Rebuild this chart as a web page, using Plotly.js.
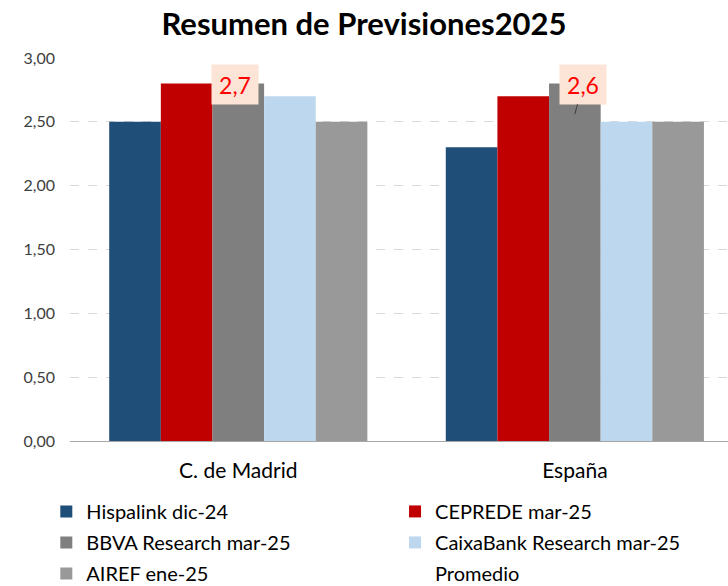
<!DOCTYPE html>
<html><head><meta charset="utf-8">
<script src="https://cdn.plot.ly/plotly-3.0.1.min.js"></script>
<style>body{margin:0;background:#fff}#c{width:728px;height:586px}</style>
</head><body><div id="c"></div>
<script>
const categories = ["C. de Madrid", "España"];
const hispalink = [2.5, 2.3];
const ceprede = [2.8, 2.7];
const bbva = [2.8, 2.8];
const caixabank = [2.7, 2.5];
const airef = [2.5, 2.5];
const promedio = [2.66, 2.56];
const promedioLabels = ["2,7", "2,6"];
const seriesNames = ["Hispalink dic-24", "CEPREDE mar-25", "BBVA Research mar-25", "CaixaBank Research mar-25", "AIREF ene-25", "Promedio"];
const yTicks = [0, 0.5, 1, 1.5, 2, 2.5, 3];
const yTickLabels = ["0,00", "0,50", "1,00", "1,50", "2,00", "2,50", "3,00"];

const font = "Lato, 'Open Sans', sans-serif";
const colors = ["#1f4e79", "#c00000", "#7f7f7f", "#bdd7ee", "#999999"];
const vals = [hispalink, ceprede, bbva, caixabank, airef];
const legendOf = ["legend", "legend2", "legend", "legend2", "legend", "legend2"];

const traces = vals.map((v, i) => ({
  type: "bar", x: categories, y: v, name: seriesNames[i],
  marker: {color: colors[i], line: {width: 0}},
  legend: legendOf[i], legendgroup: "g" + i, hoverinfo: "none"
}));
traces.push({
  type: "scatter", mode: "lines", x: categories, y: promedio, name: seriesNames[5],
  line: {color: "rgba(0,0,0,0)", width: 0}, legend: legendOf[5], legendgroup: "g5", hoverinfo: "none"
});

const annotations = categories.map((c, i) => ({
  x: c, y: promedio[i], xref: "x", yref: "y",
  text: promedioLabels[i],
  font: {family: font, size: 23, color: "#ff0000"},
  bgcolor: "#fce4d6", borderpad: 6, width: 34, height: 27,
  showarrow: i === 1, arrowhead: 0, arrowwidth: 1, arrowcolor: "#404040",
  ax: i === 1 ? 8 : 0, ay: i === 1 ? -30 : 0,
  xshift: i === 1 ? 0 : -3, yshift: i === 1 ? 0 : 17
}));

const legendBase = {
  orientation: "v", xref: "paper", yref: "paper", xanchor: "left", yanchor: "top",
  font: {family: font, size: 20, color: "#000"}, bgcolor: "rgba(0,0,0,0)",
  traceorder: "grouped", tracegroupgap: 2, itemwidth: 30
};

const layout = {
  width: 728, height: 586,
  margin: {l: 70, r: 0, t: 58, b: 145, autoexpand: false},
  paper_bgcolor: "#fff", plot_bgcolor: "#fff",
  title: {text: "<b>Resumen de Previsiones2025</b>", font: {family: font, size: 31, color: "#000"}, x: 0.5, xanchor: "center", y: 0.978, yanchor: "top"},
  barmode: "group", bargap: 0.233, bargroupgap: 0,
  xaxis: {type: "category", range: [-0.5, 1.455], showgrid: false, zeroline: false, automargin: false,
    showline: false, ticks: "", tickfont: {family: font, size: 21, color: "#000"}, ticklabelstandoff: 15},
  yaxis: {range: [0, 3], tickvals: yTicks, ticktext: yTickLabels, showgrid: true, automargin: false,
    gridcolor: "#d9d9d9", griddash: "dash", gridwidth: 1, zeroline: true, zerolinecolor: "#a6a6a6", zerolinewidth: 1,
    showline: false, ticks: "", tickfont: {family: font, size: 16, color: "#404040"}, ticklabelstandoff: 14},
  showlegend: true,
  legend: Object.assign({}, legendBase, {x: -0.036, y: -0.133}),
  legend2: Object.assign({}, legendBase, {x: 0.494, y: -0.133}),
  annotations: annotations,
  hovermode: false
};

Plotly.newPlot("c", traces, layout, {staticPlot: true, displayModeBar: false});
</script></body></html>
